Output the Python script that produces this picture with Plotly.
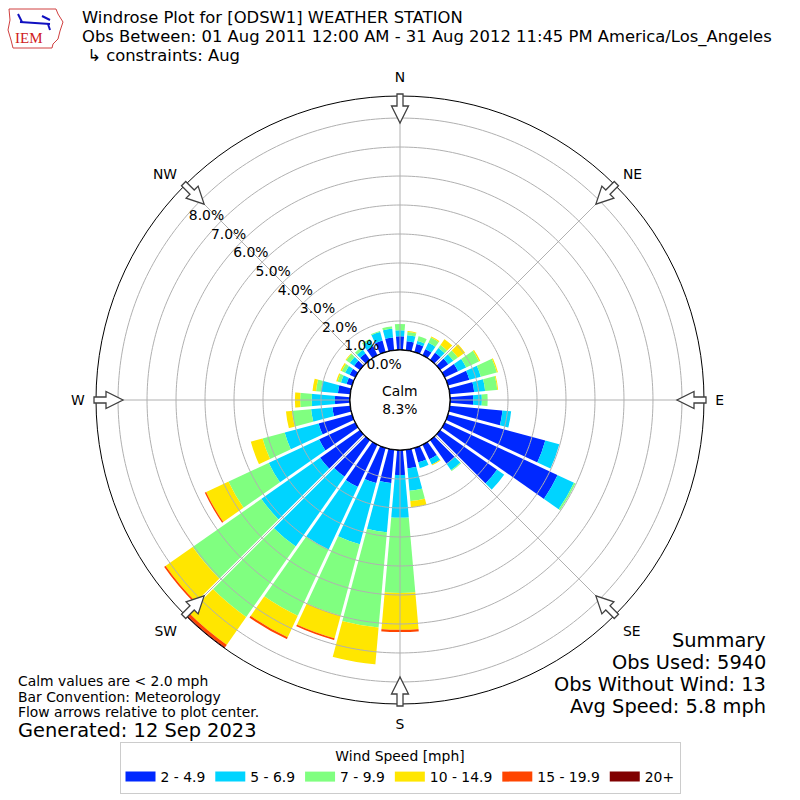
import numpy as np
import plotly.graph_objects as go

# wind directions (deg, bar centres) and speed bins
directions = list(range(0, 360, 10))
speed_bins = ["2 - 4.9", "5 - 6.9", "7 - 9.9", "10 - 14.9", "15 - 19.9", "20+"]
bin_colors = ["#0028ff", "#00d4ff", "#80ff80", "#ffe600", "#ff4500", "#800000"]

# frequency (%) per direction for each speed bin
spd_2_5 = [0.47, 0.32, 0.29, 0.24, 0.31, 0.35, 0.51, 0.77, 0.85, 0.80,
           1.83, 3.48, 4.30, 2.40, 1.00, 0.56, 0.52, 0.65, 0.86, 1.16,
           1.26, 1.61, 1.54, 1.68, 1.38, 1.20, 0.62, 0.52, 0.43, 0.20,
           0.22, 0.25, 0.28, 0.35, 0.42, 0.45]
spd_5_7 = [0.21, 0.21, 0.11, 0.24, 0.20, 0.21, 0.31, 0.41, 0.38, 0.30,
           0.30, 0.50, 0.62, 0.30, 0.27, 0.20, 0.20, 0.78, 1.48, 1.70,
           2.18, 2.38, 2.94, 2.47, 1.92, 1.21, 0.74, 0.80, 0.59, 0.20,
           0.17, 0.18, 0.15, 0.22, 0.30, 0.30]
spd_7_10 = [0.22, 0.11, 0.17, 0.20, 0.12, 0.19, 0.49, 0.57, 0.42, 0.20,
            0.00, 0.00, 0.06, 0.00, 0.04, 0.00, 0.00, 0.35, 2.59, 3.30,
            2.55, 2.52, 2.97, 2.89, 1.53, 0.79, 0.66, 0.40, 0.17, 0.12,
            0.13, 0.15, 0.10, 0.06, 0.04, 0.08]
spd_10_15 = [0.00, 0.03, 0.00, 0.04, 0.25, 0.30, 0.05, 0.04, 0.03, 0.00,
             0.00, 0.00, 0.00, 0.00, 0.00, 0.03, 0.00, 0.22, 1.27, 1.27,
             0.81, 0.82, 1.17, 1.14, 0.85, 0.42, 0.21, 0.18, 0.12, 0.05,
             0.05, 0.03, 0.00, 0.00, 0.00, 0.00]
spd_15_20 = [0.00] * 18 + [0.08, 0.00, 0.06, 0.07, 0.10, 0.06, 0.05] + [0.00] * 11
spd_20_up = [0.00] * 22 + [0.04] + [0.00] * 13
bin_values = [spd_2_5, spd_5_7, spd_7_10, spd_10_15, spd_15_20, spd_20_up]

calm_pct = 8.3
compass = ["N", "NE", "E", "SE", "S", "SW", "W", "NW"]
compass_deg = [0, 45, 90, 135, 180, 225, 270, 315]
rticks = [0, 1, 2, 3, 4, 5, 6, 7, 8]
rmax = 8.76

W = 800
FONT = "DejaVu Sans"
SMALL = 13.9
BIG = 19.4


def px(x, y):
    return x / W, 1 - y / W


fig = go.Figure()

for name, vals, col in zip(speed_bins, bin_values, bin_colors):
    fig.add_trace(go.Barpolar(r=vals, theta=directions, width=10, name=name,
                              marker=dict(color=col, line=dict(width=0)),
                              showlegend=False))

# white gaps between sectors
gap_r, gap_t = [], []
for d in directions:
    gap_r += [0, rmax, None]
    gap_t += [d + 5, d + 5, None]
fig.add_trace(go.Scatterpolar(r=gap_r, theta=gap_t, mode="lines",
                              line=dict(color="white", width=3),
                              showlegend=False, hoverinfo="skip"))

# grid drawn above the bars
th = np.arange(0, 361, 1.0)
grid_r, grid_t = [], []
for rv in rticks[1:]:
    grid_r += [rv] * len(th) + [None]
    grid_t += list(th) + [None]
for d in compass_deg:
    grid_r += [0, rmax, None]
    grid_t += [d, d, None]
fig.add_trace(go.Scatterpolar(r=grid_r, theta=grid_t, mode="lines",
                              line=dict(color="#b0b0b0", width=1),
                              showlegend=False, hoverinfo="skip"))
fig.add_trace(go.Scatterpolar(r=[0] * len(th), theta=th, mode="lines",
                              line=dict(color="black", width=1.5),
                              showlegend=False, hoverinfo="skip"))

# legend swatches
for name, col in zip(speed_bins, bin_colors):
    fig.add_trace(go.Scatter(x=[None], y=[None], mode="lines", name=name,
                             line=dict(color=col, width=10)))

# flow arrows on the rim, pointing at the centre
shapes = []
cx, cy = 400, 400
for b in compass_deg:
    a = np.radians(b)
    u = np.array([np.sin(a), -np.cos(a)])
    p = np.array([np.cos(a), np.sin(a)])
    pts = [(306, -3), (294, -3), (294, -8.5), (277, 0), (294, 8.5), (294, 3), (306, 3)]
    path = ""
    for i, (d, s) in enumerate(pts):
        x, y = np.array([cx, cy]) + d * u + s * p
        xx, yy = px(x, y)
        path += ("M" if i == 0 else "L") + f"{xx:.5f},{yy:.5f}"
    path += "Z"
    shapes.append(dict(type="path", path=path, xref="paper", yref="paper",
                       fillcolor="white", line=dict(color="#404040", width=1.3)))

# rough IEM logo
logo = [(9, 9), (56, 9), (58, 14), (63, 22), (60, 31), (58, 39), (53, 44),
        (52, 48), (13, 48), (11, 40), (8, 30), (10, 20)]
path = ""
for i, (x, y) in enumerate(logo):
    xx, yy = px(x, y)
    path += ("M" if i == 0 else "L") + f"{xx:.5f},{yy:.5f}"
shapes.append(dict(type="path", path=path + "Z", xref="paper", yref="paper",
                   line=dict(color="#d04040", width=1)))
for (x0, y0, x1, y1) in [(20, 22, 50, 24), (18, 14, 22, 22), (42, 16, 50, 20), (48, 24, 50, 30)]:
    a0, b0 = px(x0, y0)
    a1, b1 = px(x1, y1)
    shapes.append(dict(type="line", x0=a0, y0=b0, x1=a1, y1=b1, xref="paper", yref="paper",
                       line=dict(color="#1010c0", width=2)))

annotations = []


def note(text, x, y, size, xanchor="left", yanchor="middle", color="black", family=FONT):
    xx, yy = px(x, y)
    annotations.append(dict(text=text, x=xx, y=yy, xref="paper", yref="paper",
                            xanchor=xanchor, yanchor=yanchor, showarrow=False,
                            font=dict(size=size, color=color, family=family)))


note("IEM", 29, 38, 15, xanchor="center", color="#d02020", family="Liberation Serif")
note("Windrose Plot for [ODSW1] WEATHER STATION", 80, 18, 16.4)
note("Obs Between: 01 Aug 2011 12:00 AM - 31 Aug 2012 11:45 PM America/Los_Angeles", 80, 37, 16.4)
note(" ↳ constraints: Aug", 80, 55.5, 16.4)
note("Calm<br>%.1f%%" % calm_pct, 400, 400, SMALL, xanchor="center")
note("Calm values are < 2.0 mph", 16, 681, SMALL)
note("Bar Convention: Meteorology", 16, 697, SMALL)
note("Flow arrows relative to plot center.", 16, 712, SMALL)
note("Generated: 12 Sep 2023", 16, 730, BIG)
note("Summary", 768, 640, BIG, xanchor="right")
note("Obs Used: 5940", 768, 662, BIG, xanchor="right")
note("Obs Without Wind: 13", 768, 684, BIG, xanchor="right")
note("Avg Speed: 5.8 mph", 768, 706, BIG, xanchor="right")

fig.update_layout(
    width=800, height=800,
    margin=dict(l=0, r=0, t=0, b=0),
    paper_bgcolor="white", plot_bgcolor="white",
    font=dict(family=FONT, size=SMALL, color="black"),
    xaxis=dict(visible=False), yaxis=dict(visible=False),
    polar=dict(
        domain=dict(x=[0.12, 0.88], y=[0.12, 0.88]),
        hole=50 / 304,
        bgcolor="white",
        barmode="stack",
        bargap=0,
        radialaxis=dict(range=[0, rmax], tickvals=rticks,
                        ticktext=["%.1f%%" % v for v in rticks],
                        showgrid=False, showline=False, ticks="", angle=140,
                        tickangle=140, side="clockwise",
                        tickfont=dict(size=SMALL)),
        angularaxis=dict(direction="clockwise", rotation=90,
                         tickvals=compass_deg, ticktext=compass,
                         showgrid=False, showline=True, linecolor="black",
                         linewidth=1, ticks="outside", ticklen=8,
                         tickcolor="rgba(0,0,0,0)", tickfont=dict(size=SMALL)),
    ),
    legend=dict(orientation="h", x=0.5, xanchor="center", y=1 - 742 / 800, yanchor="top",
                bordercolor="#cccccc", borderwidth=1, font=dict(size=SMALL),
                title=dict(text="Wind Speed [mph]", side="top center", font=dict(size=SMALL))),
    shapes=shapes,
    annotations=annotations,
)

fig.write_html("out.html", config={"displayModeBar": False},
               post_script="document.body.style.margin='0px';")
